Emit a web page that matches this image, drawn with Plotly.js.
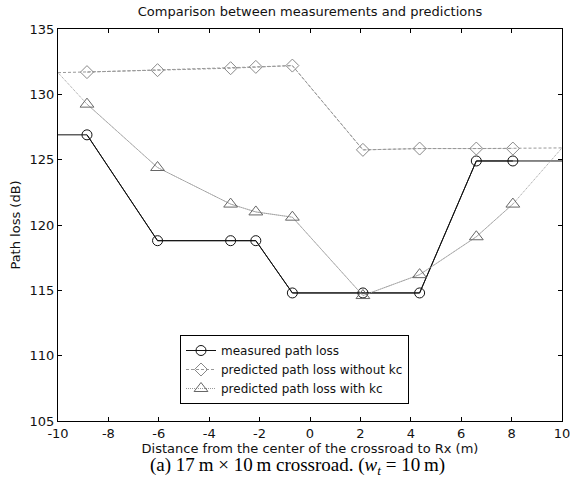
<!DOCTYPE html>
<html>
<head>
<meta charset="utf-8">
<script src="https://cdn.plot.ly/plotly-3.0.1.min.js"></script>
<style>html,body{margin:0;padding:0;background:#fff;}#chart{width:570px;height:496px;}</style>
</head>
<body>
<div id="chart"></div>
<script>
// Distance from the center of the crossroad to Rx (m)
const xEdges = [-10, 10];
const xPoints = [-8.85, -6.05, -3.15, -2.15, -0.7, 2.1, 4.35, 6.6, 8.05];

// Path loss (dB) at the marker positions
const measured = [126.9, 118.8, 118.8, 118.8, 114.8, 114.8, 114.8, 124.9, 124.9];
const predictedNoKc = [131.7, 131.85, 132.0, 132.1, 132.2, 125.75, 125.85, 125.85, 125.85];
const predictedKc = [129.25, 124.4, 121.6, 121.0, 120.6, 114.6, 116.2, 119.1, 121.6];

// Line values at the plot edges (x = -10 and x = 10)
const measuredEdges = [126.9, 124.9];
const predictedNoKcEdges = [131.66, 125.9];
const predictedKcEdges = [131.66, 125.9];

const seriesNames = ['measured path loss', 'predicted path loss without kc', 'predicted path loss with kc'];
const xTicks = [-10, -8, -6, -4, -2, 0, 2, 4, 6, 8, 10];
const yTicks = [105, 110, 115, 120, 125, 130, 135];

const FONT = 'DejaVu Sans, Liberation Sans, Arial, sans-serif';

function withEdges(vals, edges) {
  return [edges[0]].concat(vals, [edges[1]]);
}
const xFull = [xEdges[0]].concat(xPoints, [xEdges[1]]);

const styles = [
  {line: {color: '#111', width: 1, dash: 'solid'}, marker: {symbol: 'circle-open', size: 10, color: '#111', line: {width: 1, color: '#111'}}},
  {line: {color: '#999', width: 1, dash: '3px,2px'}, marker: {symbol: 'diamond-open', size: 10, color: '#888', line: {width: 1, color: '#888'}}},
  {line: {color: '#999', width: 1, dash: '1px,1px'}, marker: {symbol: 'triangle-up-open', size: 12, color: '#666', line: {width: 1, color: '#666'}}}
];
const valuesList = [measured, predictedNoKc, predictedKc];
const edgesList = [measuredEdges, predictedNoKcEdges, predictedKcEdges];

const traces = [];
for (let i = 0; i < 3; i++) {
  traces.push({
    x: xFull, y: withEdges(valuesList[i], edgesList[i]),
    mode: 'lines', line: styles[i].line, showlegend: false, hoverinfo: 'skip'
  });
}
for (let i = 0; i < 3; i++) {
  traces.push({
    x: xPoints, y: valuesList[i], name: seriesNames[i],
    mode: 'lines+markers', line: styles[i].line, marker: styles[i].marker
  });
}

const axisCommon = {
  showline: true, linecolor: '#000', linewidth: 1, mirror: 'ticks',
  ticks: 'inside', ticklen: 4, tickcolor: '#000', tickwidth: 1,
  showgrid: false, zeroline: false,
  tickfont: {family: FONT, size: 13, color: '#111'},
  tickmode: 'array', ticklabeloverflow: 'allow'
};

const layout = {
  width: 570, height: 496,
  margin: {l: 58, r: 8, t: 29, b: 75},
  paper_bgcolor: '#fff', plot_bgcolor: '#fff',
  showlegend: true,
  title: {text: 'Comparison between measurements and predictions', font: {family: FONT, size: 13, color: '#111'},
          xref: 'paper', x: 0.5, xanchor: 'center', yref: 'container', y: 1 - 11/496, yanchor: 'middle'},
  xaxis: Object.assign({}, axisCommon, {
    range: [-10, 10], tickvals: xTicks, ticktext: xTicks.map(String),
    title: {text: 'Distance from the center of the crossroad to Rx (m)', font: {family: FONT, size: 13, color: '#111'}, standoff: 0}
  }),
  yaxis: Object.assign({}, axisCommon, {
    range: [105, 135], tickvals: yTicks, ticktext: yTicks.map(String),
    title: {text: 'Path loss (dB)', font: {family: FONT, size: 13, color: '#111'}, standoff: 6}
  }),
  legend: {
    x: (180 - 58) / 504, y: (421 - 335) / 392, xanchor: 'left', yanchor: 'top',
    bgcolor: '#fff', bordercolor: '#000', borderwidth: 1,
    font: {family: FONT, size: 12, color: '#111'}
  },
  annotations: [{
    text: '(a) 17\u2009m \u00d7 10\u2009m crossroad. (<i>w</i><sub><i>t</i></sub> = 10\u2009m)',
    xref: 'paper', yref: 'paper', x: (297 - 58) / 504, y: (421 - 466) / 392,
    xanchor: 'center', yanchor: 'middle', showarrow: false,
    font: {family: 'Liberation Serif, Times New Roman, serif', size: 19, color: '#000'}
  }]
};

Plotly.newPlot('chart', traces, layout, {displayModeBar: false, staticPlot: true});
</script>
</body>
</html>
